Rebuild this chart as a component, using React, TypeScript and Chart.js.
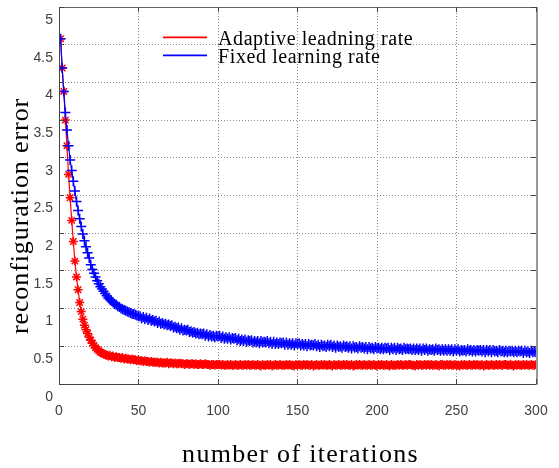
import React, { useEffect, useRef } from 'react';
import { Chart, registerables } from 'chart.js';

Chart.register(...registerables);

// ---------- data ----------
const iterations: number[] = Array.from({ length: 300 }, (_, i) => i + 1);

const xTicks = [0, 50, 100, 150, 200, 250, 300];
const yTicks = [0, 0.5, 1, 1.5, 2, 2.5, 3, 3.5, 4, 4.5, 5];

const seriesNames = ['Adaptive leadning rate', 'Fixed learning rate'];
const xTitle = 'number of iterations';
const yTitle = 'reconfiguration error';

// Adaptive learning rate (red, asterisk markers)
const adaptiveError: number[] = [
  4.58, 4.19, 3.88, 3.50, 3.16, 2.78, 2.47, 2.17, 1.89, 1.63,
  1.42, 1.25, 1.08, 0.96, 0.86, 0.78, 0.72, 0.67, 0.62, 0.58,
  0.54, 0.51, 0.48, 0.46, 0.44, 0.42, 0.41, 0.40, 0.39, 0.38,
  0.37, 0.38, 0.36, 0.37, 0.35, 0.36, 0.35, 0.35, 0.34, 0.35,
  0.33, 0.34, 0.33, 0.33, 0.32, 0.33, 0.32, 0.32, 0.31, 0.32,
  0.31, 0.31, 0.30, 0.31, 0.30, 0.30, 0.29, 0.30, 0.29, 0.29,
  0.29, 0.29, 0.28, 0.29, 0.28, 0.28, 0.28, 0.29, 0.27, 0.28,
  0.28, 0.27, 0.28, 0.27, 0.27, 0.28, 0.27, 0.27, 0.26, 0.27,
  0.27, 0.26, 0.27, 0.27, 0.26, 0.27, 0.26, 0.26, 0.27, 0.26,
  0.26, 0.27, 0.26, 0.26, 0.25, 0.26, 0.26, 0.25, 0.26, 0.26,
  0.26, 0.25, 0.26, 0.25, 0.25, 0.26, 0.25, 0.26, 0.25, 0.25,
  0.26, 0.25, 0.25, 0.26, 0.25, 0.25, 0.26, 0.25, 0.26, 0.25,
  0.25, 0.26, 0.25, 0.25, 0.26, 0.25, 0.24, 0.26, 0.25, 0.25,
  0.26, 0.25, 0.26, 0.24, 0.25, 0.26, 0.25, 0.25, 0.26, 0.25,
  0.25, 0.25, 0.26, 0.25, 0.26, 0.25, 0.25, 0.24, 0.26, 0.25,
  0.26, 0.25, 0.25, 0.26, 0.25, 0.26, 0.25, 0.25, 0.26, 0.24,
  0.25, 0.26, 0.25, 0.25, 0.26, 0.25, 0.26, 0.25, 0.25, 0.26,
  0.25, 0.24, 0.26, 0.25, 0.25, 0.26, 0.25, 0.25, 0.26, 0.25,
  0.26, 0.25, 0.25, 0.26, 0.24, 0.25, 0.26, 0.25, 0.26, 0.25,
  0.25, 0.26, 0.25, 0.25, 0.26, 0.25, 0.25, 0.26, 0.25, 0.24,
  0.26, 0.25, 0.26, 0.25, 0.25, 0.26, 0.25, 0.24, 0.26, 0.25,
  0.25, 0.25, 0.26, 0.25, 0.26, 0.25, 0.25, 0.26, 0.25, 0.26,
  0.26, 0.25, 0.25, 0.24, 0.26, 0.25, 0.26, 0.25, 0.25, 0.26,
  0.25, 0.26, 0.25, 0.26, 0.25, 0.25, 0.26, 0.25, 0.24, 0.26,
  0.26, 0.25, 0.25, 0.26, 0.25, 0.26, 0.25, 0.25, 0.26, 0.25,
  0.25, 0.24, 0.26, 0.25, 0.26, 0.25, 0.25, 0.26, 0.25, 0.25,
  0.26, 0.25, 0.26, 0.25, 0.25, 0.26, 0.24, 0.25, 0.26, 0.25,
  0.25, 0.26, 0.25, 0.25, 0.26, 0.25, 0.26, 0.25, 0.25, 0.26,
  0.26, 0.25, 0.25, 0.26, 0.25, 0.24, 0.26, 0.25, 0.26, 0.25,
  0.25, 0.26, 0.25, 0.26, 0.25, 0.25, 0.26, 0.25, 0.25, 0.26,
];

// Fixed learning rate (blue, plus markers)
const fixedError: number[] = [
  4.58, 4.19, 3.88, 3.60, 3.37, 3.16, 2.97, 2.83, 2.69, 2.56,
  2.42, 2.30, 2.19, 2.09, 1.99, 1.90, 1.82, 1.74, 1.67, 1.58,
  1.52, 1.47, 1.42, 1.37, 1.33, 1.29, 1.26, 1.23, 1.20, 1.17,
  1.14, 1.12, 1.10, 1.08, 1.06, 1.05, 1.03, 1.02, 1.00, 0.99,
  0.98, 0.97, 0.96, 0.95, 0.94, 0.93, 0.93, 0.92, 0.91, 0.90,
  0.90, 0.87, 0.89, 0.86, 0.88, 0.85, 0.87, 0.84, 0.85, 0.83,
  0.84, 0.81, 0.83, 0.80, 0.81, 0.79, 0.80, 0.78, 0.79, 0.77,
  0.78, 0.75, 0.76, 0.74, 0.75, 0.72, 0.74, 0.71, 0.72, 0.71,
  0.72, 0.69, 0.70, 0.68, 0.69, 0.67, 0.68, 0.66, 0.67, 0.66,
  0.67, 0.64, 0.66, 0.63, 0.65, 0.63, 0.64, 0.62, 0.64, 0.63,
  0.64, 0.61, 0.63, 0.60, 0.62, 0.60, 0.62, 0.59, 0.61, 0.60,
  0.61, 0.58, 0.60, 0.57, 0.59, 0.57, 0.59, 0.56, 0.58, 0.57,
  0.58, 0.55, 0.57, 0.55, 0.57, 0.54, 0.57, 0.55, 0.56, 0.55,
  0.57, 0.54, 0.56, 0.53, 0.56, 0.53, 0.55, 0.53, 0.55, 0.54,
  0.55, 0.52, 0.55, 0.52, 0.54, 0.52, 0.54, 0.51, 0.54, 0.53,
  0.54, 0.51, 0.53, 0.51, 0.53, 0.50, 0.53, 0.51, 0.52, 0.51,
  0.53, 0.50, 0.52, 0.49, 0.52, 0.50, 0.51, 0.49, 0.52, 0.50,
  0.52, 0.49, 0.51, 0.48, 0.51, 0.49, 0.50, 0.48, 0.51, 0.49,
  0.50, 0.48, 0.50, 0.47, 0.50, 0.48, 0.49, 0.47, 0.50, 0.48,
  0.49, 0.47, 0.49, 0.46, 0.49, 0.47, 0.48, 0.46, 0.49, 0.47,
  0.48, 0.46, 0.48, 0.46, 0.48, 0.47, 0.48, 0.45, 0.48, 0.46,
  0.48, 0.45, 0.48, 0.46, 0.47, 0.45, 0.48, 0.46, 0.47, 0.46,
  0.47, 0.45, 0.47, 0.45, 0.47, 0.45, 0.47, 0.44, 0.47, 0.45,
  0.47, 0.44, 0.46, 0.45, 0.46, 0.44, 0.47, 0.45, 0.46, 0.44,
  0.46, 0.44, 0.46, 0.44, 0.46, 0.44, 0.46, 0.43, 0.46, 0.44,
  0.46, 0.43, 0.45, 0.44, 0.45, 0.43, 0.46, 0.44, 0.45, 0.43,
  0.45, 0.43, 0.45, 0.44, 0.45, 0.43, 0.45, 0.42, 0.45, 0.43,
  0.45, 0.42, 0.45, 0.43, 0.44, 0.42, 0.45, 0.43, 0.44, 0.42,
  0.44, 0.42, 0.44, 0.43, 0.44, 0.42, 0.44, 0.42, 0.44, 0.43,
  0.44, 0.41, 0.44, 0.42, 0.43, 0.41, 0.44, 0.42, 0.43, 0.42,
];

const RED = '#ff0000';
const BLUE = '#0000ff';
const SERIF = '"Liberation Serif", "DejaVu Serif", serif';
const SANS = '"Liberation Sans", Arial, sans-serif';

const decorPlugin = {
  id: 'decor',
  afterDraw(chart: any) {
    const { ctx, chartArea, scales } = chart;
    const { left, right, top, bottom } = chartArea;
    const xs = scales.x;
    const ys = scales.y;
    ctx.save();

    // frame
    ctx.setLineDash([]);
    ctx.lineWidth = 1;
    ctx.strokeStyle = '#444444';
    ctx.beginPath();
    ctx.moveTo(Math.floor(left) + 0.5, Math.floor(top) + 0.5);
    ctx.lineTo(Math.floor(left) + 0.5, Math.floor(bottom) + 0.5);
    ctx.lineTo(Math.floor(right) + 0.5, Math.floor(bottom) + 0.5);
    ctx.stroke();
    ctx.strokeStyle = '#666666';
    ctx.beginPath();
    ctx.moveTo(Math.floor(left) + 0.5, Math.floor(top) + 0.5);
    ctx.lineTo(Math.floor(right) + 0.5, Math.floor(top) + 0.5);
    ctx.stroke();
    ctx.strokeStyle = '#999999';
    ctx.lineWidth = 2;
    ctx.beginPath();
    ctx.moveTo(Math.floor(right) + 1, Math.floor(top));
    ctx.lineTo(Math.floor(right) + 1, Math.floor(bottom) + 1);
    ctx.stroke();

    // inward tick marks
    ctx.lineWidth = 1;
    ctx.strokeStyle = '#444444';
    const tl = 5;
    ctx.beginPath();
    for (const v of xTicks) {
      const px = Math.floor(xs.getPixelForValue(v)) + 0.5;
      ctx.moveTo(px, bottom);
      ctx.lineTo(px, bottom - tl);
      ctx.moveTo(px, top);
      ctx.lineTo(px, top + tl);
    }
    for (const v of yTicks) {
      const py = Math.floor(ys.getPixelForValue(v)) + 0.5;
      ctx.moveTo(left, py);
      ctx.lineTo(left + tl, py);
      ctx.moveTo(right, py);
      ctx.lineTo(right - tl, py);
    }
    ctx.stroke();

    // legend (lines only, serif text)
    const legendColors = [RED, BLUE];
    const lineY = [37.4, 55.4];
    const textBase = [45, 63];
    ctx.font = `20px ${SERIF}`;
    ctx.fillStyle = '#000000';
    ctx.textAlign = 'left';
    ctx.textBaseline = 'alphabetic';
    (ctx as any).letterSpacing = '0.6px';
    for (let i = 0; i < seriesNames.length; i++) {
      ctx.save();
      ctx.strokeStyle = legendColors[i];
      ctx.lineWidth = 1.8;
      ctx.beginPath();
      ctx.moveTo(163, lineY[i]);
      ctx.lineTo(207, lineY[i]);
      ctx.stroke();
      ctx.restore();
      ctx.fillText(seriesNames[i], 218, textBase[i]);
    }

    // axis titles
    ctx.textAlign = 'center';
    ctx.font = `26px ${SERIF}`;
    (ctx as any).letterSpacing = '1.3px';
    ctx.fillText(xTitle, (left + right) / 2 + 3, 462);

    ctx.save();
    ctx.translate(28, 216);
    ctx.rotate(-Math.PI / 2);
    (ctx as any).letterSpacing = '0.9px';
    ctx.fillText(yTitle, 0, 0);
    ctx.restore();

    (ctx as any).letterSpacing = '0px';
    ctx.restore();
  },
};

export default function App() {
  const canvasRef = useRef<HTMLCanvasElement | null>(null);

  useEffect(() => {
    const canvas = canvasRef.current;
    if (!canvas) return;
    const chart = new Chart(canvas, {
      type: 'line',
      data: {
        datasets: [
          {
            label: seriesNames[0],
            data: iterations.map((x, i) => ({ x, y: adaptiveError[i] })),
            borderColor: RED,
            backgroundColor: RED,
            borderWidth: 1.2,
            pointStyle: 'star',
            pointRadius: 4.5,
            pointBorderWidth: 1.5,
            pointBorderColor: RED,
            tension: 0,
            fill: false,
            order: 1,
          },
          {
            label: seriesNames[1],
            data: iterations.map((x, i) => ({ x, y: fixedError[i] })),
            borderColor: BLUE,
            backgroundColor: BLUE,
            borderWidth: 1.2,
            pointStyle: 'cross',
            pointRadius: 5,
            pointBorderWidth: 1.5,
            pointBorderColor: BLUE,
            tension: 0,
            fill: false,
            order: 0,
          },
        ],
      },
      options: {
        responsive: false,
        animation: false,
        devicePixelRatio: 1,
        layout: { padding: { left: 0, top: 7, right: 23, bottom: 0 } },
        plugins: {
          legend: { display: false },
          tooltip: { enabled: false },
        },
        scales: {
          x: {
            type: 'linear',
            min: 0,
            max: 300,
            afterBuildTicks: (s: any) => {
              s.ticks = xTicks.map((v) => ({ value: v }));
            },
            afterFit: (s: any) => {
              s.height = 84;
              s.paddingLeft = 0;
              s.paddingRight = 0;
            },
            grid: { color: '#8a8a8a', lineWidth: 1, drawTicks: false },
            border: { display: false, dash: [1, 2] },
            ticks: {
              padding: 19,
              color: '#404040',
              font: { family: SANS, size: 14 },
              maxRotation: 0,
              callback: (v: any) => String(v),
            },
          },
          y: {
            type: 'linear',
            min: 0,
            max: 5,
            afterBuildTicks: (s: any) => {
              s.ticks = yTicks.map((v) => ({ value: v }));
            },
            afterFit: (s: any) => {
              s.width = 59;
              s.paddingTop = 0;
              s.paddingBottom = 0;
            },
            grid: { color: '#8a8a8a', lineWidth: 1, drawTicks: false },
            border: { display: false, dash: [1, 2] },
            ticks: {
              padding: 6,
              labelOffset: 13,
              color: '#404040',
              font: { family: SANS, size: 14 },
              callback: (v: any) => String(v),
            },
          },
        },
      },
      plugins: [decorPlugin],
    } as any);
    return () => chart.destroy();
  }, []);

  return (
    <div
      style={{
        position: 'fixed',
        left: 0,
        top: 0,
        width: 559,
        height: 468,
        background: '#ffffff',
      }}
    >
      <canvas ref={canvasRef} width={559} height={468} />
    </div>
  );
}
